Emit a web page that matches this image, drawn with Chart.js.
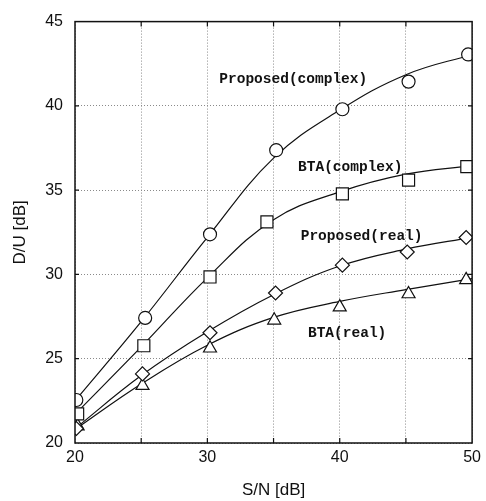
<!DOCTYPE html>
<html>
<head>
<meta charset="utf-8">
<script src="https://cdn.jsdelivr.net/npm/chart.js@4"></script>
<style>
  html, body { margin: 0; padding: 0; background: #fff; }
  #wrap { width: 486px; height: 501px; }
</style>
</head>
<body>
<div id="wrap"><canvas id="myChart" width="486" height="501"></canvas></div>
<script>
const propComplexX = [20.1, 25.3, 30.2, 35.2, 40.2, 45.2, 49.7];
const propComplexY = [22.55, 27.42, 32.38, 37.37, 39.8, 41.44, 43.05];

const btaComplexX = [20.2, 25.2, 30.2, 34.5, 40.2, 45.2, 49.6];
const btaComplexY = [21.73, 25.77, 29.85, 33.12, 34.78, 35.6, 36.4];

const propRealX = [20.1, 25.1, 30.2, 35.15, 40.2, 45.1, 49.55];
const propRealY = [20.86, 24.1, 26.54, 28.9, 30.55, 31.33, 32.19];

const btaRealX = [20.2, 25.1, 30.2, 35.05, 40.0, 45.2, 49.55];
const btaRealY = [21.0, 23.4, 25.62, 27.28, 28.06, 28.84, 29.68];

// fitted curves, read at every 5 dB
const curveX = [20, 25, 30, 35, 40, 45, 50];
const propComplexFit = [22.5, 27.2, 32.2, 36.9, 39.75, 41.85, 43.05];
const btaComplexFit = [21.7, 25.7, 29.8, 33.25, 34.9, 35.95, 36.45];
const propRealFit = [20.85, 24.0, 26.6, 28.8, 30.5, 31.5, 32.2];
const btaRealFit = [20.8, 23.5, 25.8, 27.45, 28.4, 29.1, 29.75];

const xTickLabels = [20, 30, 40, 50];
const yTickLabels = [20, 25, 30, 35, 40, 45];

// curve labels and where they sit in data units (left edge, vertical middle)
const curveLabels = ["Proposed(complex)", "BTA(complex)", "Proposed(real)", "BTA(real)"];
const curveLabelX = [30.9, 36.85, 37.05, 37.6];
const curveLabelY = [41.6, 36.37, 32.25, 26.5];

const ctx = document.getElementById("myChart").getContext("2d");

function toPoints(xs, ys) {
  return xs.map((x, i) => ({ x: x, y: ys[i] }));
}

function markers(xs, ys, style, radius) {
  return {
    data: toPoints(xs, ys),
    showLine: false,
    pointStyle: style,
    pointRadius: radius,
    pointBackgroundColor: "#fff",
    pointBorderColor: "#111",
    pointBorderWidth: 1.2,
    order: 0,
  };
}

function curve(ys) {
  return {
    data: toPoints(curveX, ys),
    borderColor: "#111",
    borderWidth: 1.2,
    pointRadius: 0,
    tension: 0.4,
    fill: false,
    order: 1,
  };
}

// frame, inner tick marks and curve labels
const framePlugin = {
  id: "frame",
  afterDraw(chart) {
    const c = chart.ctx;
    const a = chart.chartArea;
    const xs = chart.scales.x;
    const ys = chart.scales.y;
    c.save();
    c.strokeStyle = "#111";
    c.lineWidth = 1.2;
    c.beginPath();
    for (let v = 25; v < 50; v += 5) {
      const px = xs.getPixelForValue(v);
      c.moveTo(px, a.bottom); c.lineTo(px, a.bottom - 5);
      c.moveTo(px, a.top); c.lineTo(px, a.top + 5);
    }
    for (let v = 25; v < 45; v += 5) {
      const py = ys.getPixelForValue(v);
      c.moveTo(a.left, py); c.lineTo(a.left + 4, py);
      c.moveTo(a.right, py); c.lineTo(a.right - 4, py);
    }
    c.stroke();
    c.lineWidth = 1.5;
    c.strokeRect(a.left, a.top, a.right - a.left, a.bottom - a.top);

    c.fillStyle = "#111";
    c.font = 'bold 14.5px "Liberation Mono"';
    c.textBaseline = "middle";
    c.textAlign = "left";
    curveLabels.forEach((t, i) => {
      c.fillText(t, xs.getPixelForValue(curveLabelX[i]), ys.getPixelForValue(curveLabelY[i]));
    });
    c.restore();
  },
};

const myChart = new Chart(ctx, {
  type: "line",
  data: {
    datasets: [
      markers(propComplexX, propComplexY, "circle", 6.5),
      markers(btaComplexX, btaComplexY, "rect", 8.5),
      markers(propRealX, propRealY, "rectRot", 7),
      markers(btaRealX, btaRealY, "triangle", 7.5),
      curve(propComplexFit),
      curve(btaComplexFit),
      curve(propRealFit),
      curve(btaRealFit),
    ],
  },
  options: {
    responsive: false,
    animation: false,
    layout: { padding: { left: 0, right: 11, top: 15, bottom: 0 } },
    plugins: {
      legend: { display: false },
      tooltip: { enabled: false },
    },
    scales: {
      x: {
        type: "linear",
        min: 20,
        max: 50,
        afterFit(scale) { scale.height = 58; },
        grid: { color: "#8a8a8a", lineWidth: 1, drawTicks: false },
        border: { display: false, dash: [1, 2] },
        ticks: {
          stepSize: 5,
          padding: 5,
          color: "#111",
          font: { family: "Liberation Sans", size: 16 },
          callback: (v) => (xTickLabels.includes(v) ? String(v) : ""),
        },
        title: {
          display: true,
          text: "S/N [dB]",
          color: "#111",
          font: { family: "Liberation Sans", size: 17 },
          padding: { top: 0, bottom: 0 },
        },
      },
      y: {
        type: "linear",
        min: 20,
        max: 45,
        afterFit(scale) { scale.width = 75; },
        grid: { color: "#8a8a8a", lineWidth: 1, drawTicks: false },
        border: { display: false, dash: [1, 2] },
        ticks: {
          stepSize: 5,
          padding: 12,
          color: "#111",
          font: { family: "Liberation Sans", size: 16 },
          callback: (v) => (yTickLabels.includes(v) ? String(v) : ""),
        },
        title: {
          display: true,
          text: "D/U [dB]",
          color: "#111",
          font: { family: "Liberation Sans", size: 17 },
          padding: { top: 10, bottom: 0 },
        },
      },
    },
  },
  plugins: [framePlugin],
});
</script>
</body>
</html>
